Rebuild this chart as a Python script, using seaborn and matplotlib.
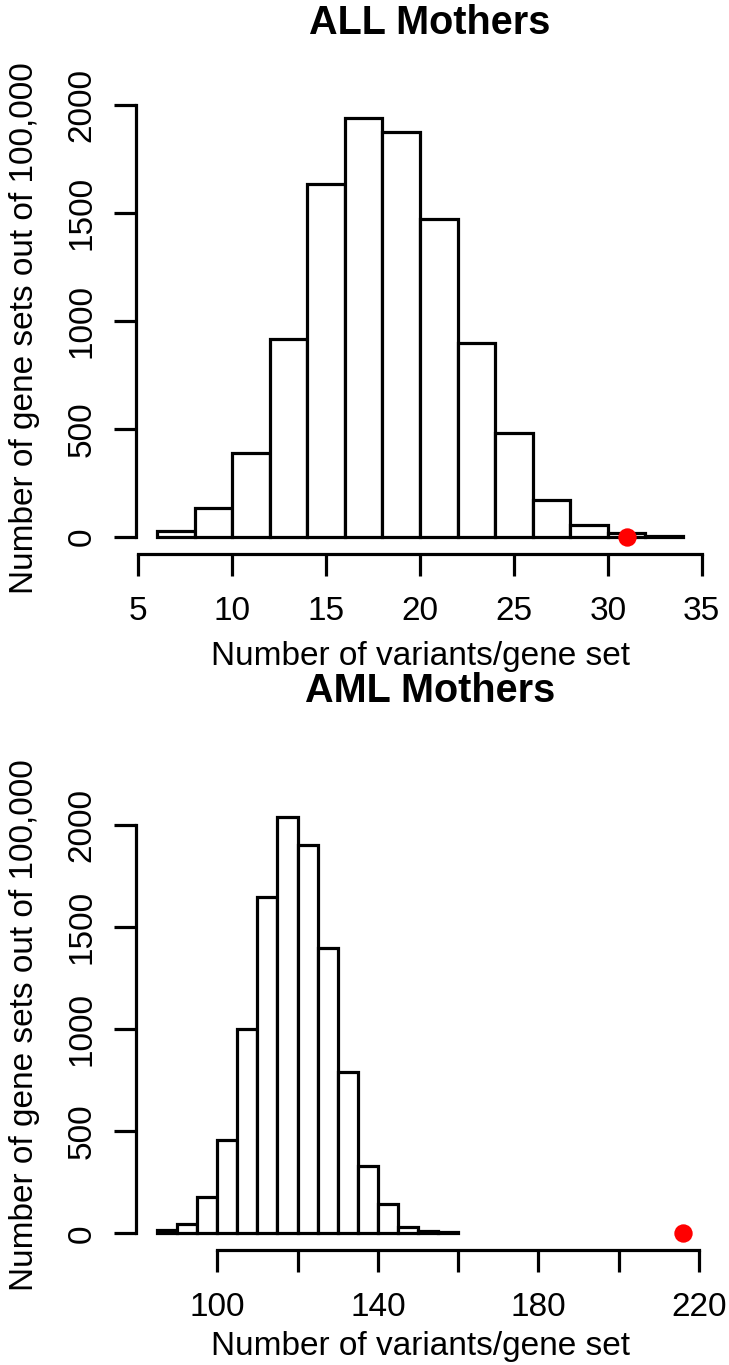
import matplotlib
matplotlib.use("Agg")
import matplotlib.pyplot as plt
import seaborn as sns
import numpy as np

# ---- data ----
all_edges = [6, 8, 10, 12, 14, 16, 18, 20, 22, 24, 26, 28, 30, 32, 34]
all_counts = [27, 134, 388, 919, 1635, 1940, 1876, 1471, 898, 483, 170, 58, 19, 7]
all_observed = 31

aml_edges = [85, 90, 95, 100, 105, 110, 115, 120, 125, 130, 135, 140, 145, 150, 155, 160]
aml_counts = [14, 48, 177, 455, 1000, 1645, 2040, 1902, 1395, 790, 328, 142, 33, 13, 7]
aml_observed = 216

all_xticks = [5, 10, 15, 20, 25, 30, 35]
all_xticklabels = ["5", "10", "15", "20", "25", "30", "35"]
aml_xticks = [100, 120, 140, 160, 180, 200, 220]
aml_xticklabels = ["100", "", "140", "", "180", "", "220"]
yticks = [0, 500, 1000, 1500, 2000]
yticklabels = ["0", "500", "1000", "1500", "2000"]

titles = ["ALL Mothers", "AML Mothers"]
xlabel = "Number of variants/gene set"
ylabel = "Number of gene sets out of 100,000"

sns.set_theme(style="white")
plt.rcParams["font.family"] = ["Liberation Sans", "DejaVu Sans"]
plt.rcParams["text.color"] = "black"
plt.rcParams["axes.labelcolor"] = "black"
plt.rcParams["xtick.color"] = "black"
plt.rcParams["ytick.color"] = "black"

W, H = 729, 1365
fig = plt.figure(figsize=(W / 100, H / 100), dpi=100)

LW = 2.3
FS = 24

def panel(rect, edges, counts, observed, xticks, xticklabels, title, title_y):
    ax = fig.add_axes(rect)
    left_edges = edges[:-1]
    sns.histplot(x=left_edges, weights=counts, bins=edges, ax=ax,
                 color="white", edgecolor="black", linewidth=LW, alpha=1.0)
    ax.scatter([observed], [0], s=175, color="#ff0000", zorder=5, linewidths=0,
               clip_on=False)
    lo = min(edges[0], observed)
    hi = max(edges[-1], observed)
    pad = 0.04 * (hi - lo)
    ax.set_xlim(lo - pad, hi + pad)
    ymax = max(counts)
    ax.set_ylim(-0.04 * ymax, 1.04 * ymax)
    for s in ["top", "right"]:
        ax.spines[s].set_visible(False)
    for s in ["left", "bottom"]:
        ax.spines[s].set_linewidth(LW)
        ax.spines[s].set_color("black")
        ax.spines[s].set_capstyle("projecting")
    ax.spines["left"].set_bounds(yticks[0], yticks[-1])
    ax.spines["bottom"].set_bounds(xticks[0], xticks[-1])
    ax.set_xticks(xticks)
    ax.set_xticklabels(xticklabels)
    ax.set_yticks(yticks)
    ax.set_yticklabels(yticklabels, rotation=90, va="center")
    ax.tick_params(axis="both", direction="out", length=15.5, width=LW,
                   color="black", labelsize=FS, labelcolor="black",
                   bottom=True, left=True, top=False, right=False)
    ax.tick_params(axis="x", pad=15)
    ax.tick_params(axis="y", pad=12)
    ax.set_ylabel("")
    ax.set_xlabel("")
    ax.grid(False)
    fig.text(430 / W, title_y, title, ha="center", va="center",
             fontsize=28.5, fontweight="bold", color="black")
    return ax

ax1 = panel([136 / W, 1 - 554 / H, 568 / W, 453 / H], all_edges, all_counts,
            all_observed, all_xticks, all_xticklabels, titles[0], 1 - 23 / H)
ax2 = panel([136 / W, 1 - 1250 / H, 568 / W, 450 / H], aml_edges, aml_counts,
            aml_observed, aml_xticks, aml_xticklabels, titles[1], 1 - 691 / H)

fig.text(420 / W, 1 - 656 / H, xlabel, ha="center", va="center", fontsize=FS)
fig.text(420 / W, 1 - 1346 / H, xlabel, ha="center", va="center", fontsize=FS)
fig.text(25 / W, 1 - 328 / H, ylabel, ha="center", va="center", rotation=90, fontsize=FS)
fig.text(25 / W, 1 - 1025 / H, ylabel, ha="center", va="center", rotation=90, fontsize=FS)

fig.savefig("out.png", dpi=100, facecolor="white")
